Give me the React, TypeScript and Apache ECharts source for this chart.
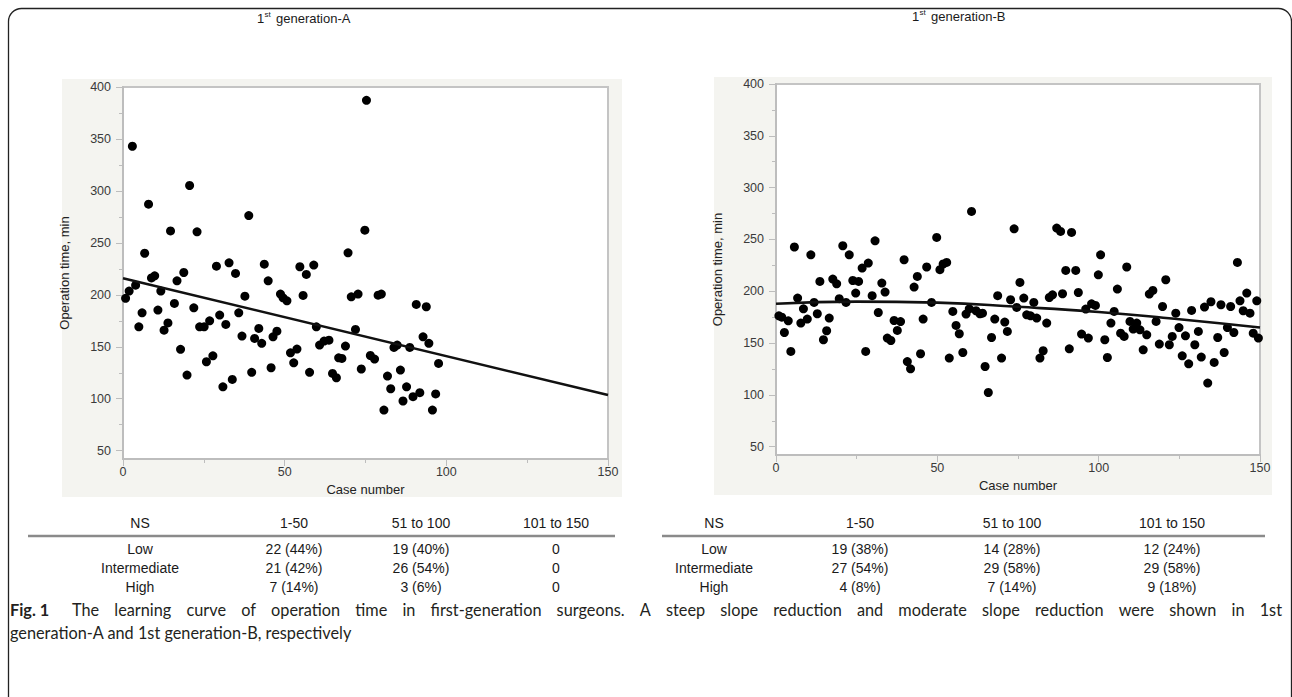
import React, { useEffect, useRef } from "react";
import * as echarts from "echarts";

// ---------------- DATA ----------------
const caseA = [0.8, 1.9, 2.9, 3.9, 4.9, 5.9, 6.7, 7.9, 8.8, 9.8, 10.8, 11.7, 12.7, 13.9, 14.7, 15.9, 16.7, 17.8, 18.8, 19.8, 20.6, 21.9, 22.9, 23.7, 25.1, 25.8, 26.8, 27.8, 28.9, 29.9, 30.9, 31.8, 32.8, 33.8, 34.8, 35.8, 36.8, 37.7, 38.9, 39.8, 40.7, 42.0, 42.9, 43.7, 44.9, 45.8, 46.4, 47.6, 48.7, 49.5, 50.7, 51.8, 52.8, 53.8, 54.7, 55.7, 56.7, 57.7, 59.0, 59.8, 60.8, 62.2, 63.7, 64.8, 66.0, 66.7, 67.7, 68.8, 69.6, 70.6, 71.9, 72.7, 73.7, 74.8, 75.3, 76.5, 77.8, 78.9, 79.9, 80.7, 81.8, 82.8, 83.8, 84.8, 85.8, 86.6, 87.7, 88.7, 89.7, 90.7, 91.8, 92.8, 93.8, 94.6, 95.7, 96.7, 97.6];
const timeA = [196.6, 203.6, 343, 209.3, 169.2, 182.7, 240, 287.2, 216.3, 218.3, 185.3, 203.6, 166, 173, 261.5, 191.7, 213.5, 147.5, 221.5, 122.8, 305.2, 187.5, 260.6, 169.2, 169.2, 135.6, 175, 141.3, 227.6, 180.5, 111.5, 171.5, 230.8, 118.6, 220.6, 182.7, 160.3, 198.7, 276.3, 125.4, 158, 167.7, 153.3, 229.5, 213.5, 129.8, 159.6, 165, 200.7, 197.1, 194.2, 144.2, 134.6, 147.8, 227, 199.4, 219.6, 125.4, 228.6, 169.2, 151.6, 155.5, 156.4, 124.4, 120.2, 139.4, 138.8, 150.7, 240.4, 198.1, 166.7, 200.7, 128.6, 262.2, 387.2, 141.6, 138.2, 199.7, 200.7, 89.1, 121.8, 109.6, 149.4, 151.6, 127.6, 97.8, 111.5, 149.4, 102, 190.8, 105.8, 159.6, 188.5, 153.3, 89.1, 104.6, 134];

const caseB = [0.9, 1.8, 2.6, 3.8, 4.6, 5.7, 6.7, 7.7, 8.5, 9.7, 10.8, 11.8, 12.8, 13.6, 14.7, 15.7, 16.5, 17.6, 18.8, 19.6, 20.7, 21.7, 22.7, 23.8, 24.7, 25.6, 26.7, 27.8, 28.6, 29.8, 30.7, 31.7, 32.8, 33.8, 34.5, 35.6, 36.6, 37.6, 38.6, 39.7, 40.7, 41.7, 42.8, 43.8, 44.8, 45.6, 46.7, 48.2, 49.8, 50.8, 51.8, 52.9, 53.7, 54.8, 55.8, 56.8, 57.9, 58.9, 59.9, 60.6, 62.0, 63.2, 64.0, 64.8, 65.8, 66.8, 67.8, 68.7, 69.9, 70.9, 71.7, 72.7, 73.8, 74.6, 75.6, 76.8, 77.7, 78.9, 79.9, 80.8, 81.8, 82.8, 83.9, 84.7, 85.7, 87.0, 88.2, 88.8, 89.8, 90.9, 91.6, 92.9, 93.7, 94.7, 96.0, 96.8, 97.8, 99.0, 99.9, 100.6, 101.9, 102.7, 103.8, 104.8, 105.8, 106.8, 107.9, 108.7, 109.7, 110.7, 111.8, 112.8, 113.8, 114.9, 115.7, 116.8, 117.8, 118.8, 119.8, 120.8, 121.9, 122.8, 123.9, 124.9, 125.9, 126.9, 127.9, 128.8, 129.8, 130.9, 131.8, 132.8, 133.8, 134.8, 135.8, 136.9, 137.9, 138.9, 139.9, 140.9, 141.9, 143.0, 143.8, 144.8, 145.9, 146.9, 147.9, 149.0, 149.5];
const timeB = [176.3, 175, 160.2, 171.5, 141.9, 242.7, 193.4, 169.3, 183.1, 173.2, 235.2, 189.2, 178.3, 209.5, 153.2, 161.9, 174.1, 211.8, 207.2, 192.8, 243.9, 189.2, 235.2, 210.4, 198.3, 209.5, 222.4, 141.9, 227.2, 195.7, 248.7, 179.5, 207.9, 199.2, 154.8, 152.5, 171.8, 162.2, 170.8, 230.4, 132.2, 125.2, 204, 214.3, 139.7, 173.2, 223.4, 189.2, 251.9, 220.8, 226.3, 227.8, 135.5, 180.5, 167, 159, 140.9, 178, 183.1, 277, 181.2, 178.3, 178.9, 127.4, 102.3, 155.4, 173.2, 195.7, 135.5, 170.3, 161.2, 191.8, 260.3, 184.4, 208.5, 193.4, 177.3, 176.3, 189.2, 174.1, 135.5, 142.6, 169.3, 194, 196.6, 261, 257.7, 197.6, 220.1, 144.5, 256.8, 220.1, 198.8, 158.7, 182.8, 154.8, 187.9, 186.3, 215.9, 235.2, 153.2, 136.1, 169.3, 180.5, 202.1, 159.6, 156.4, 223.4, 170.9, 163.5, 169.3, 162.8, 143.5, 158, 197.3, 200.8, 170.9, 149, 185.3, 211.1, 148.4, 156.4, 178.9, 165, 137.7, 157, 130, 181.5, 148.4, 161.2, 136.5, 184.7, 111.4, 189.9, 131.3, 155.4, 187, 140.9, 165, 185.3, 160.2, 227.8, 190.8, 181.2, 198.3, 178.9, 159.6, 190.8, 154.8];

const fitCaseA = [0, 150];
const fitTimeA = [216, 103.5];
const fitCaseB = [0, 25, 50, 75, 100, 125, 150];
const fitTimeB = [188, 190, 189, 185, 180, 173, 165];

const yTickValues = [50, 100, 150, 200, 250, 300, 350, 400];
const yMinorValues = [75, 125, 175, 225, 275, 325, 375];
const xTickValues = [0, 50, 100, 150];
const xMinorValues = [25, 75, 125];

const tableHeader = ["NS", "1-50", "51 to 100", "101 to 150"];
const rowLabels = ["Low", "Intermediate", "High"];
const tableA = [
  ["22 (44%)", "19 (40%)", "0"],
  ["21 (42%)", "26 (54%)", "0"],
  ["7 (14%)", "3 (6%)", "0"],
];
const tableB = [
  ["19 (38%)", "14 (28%)", "12 (24%)"],
  ["27 (54%)", "29 (58%)", "29 (58%)"],
  ["4 (8%)", "7 (14%)", "9 (18%)"],
];

const captionBold = "Fig. 1";
const captionLine1 = "The learning curve of operation time in first-generation surgeons. A steep slope reduction and moderate slope reduction were shown in 1st";
const captionLine2 = "generation-A and 1st generation-B, respectively";

// ---------------- LAYOUT ----------------
const Y_MIN = 42;
const grids = [
  { left: 123, top: 87, width: 485, height: 372 },
  { left: 776, top: 84, width: 484, height: 371 },
];
const panels = [
  { x: 62, y: 79, w: 560, h: 418 },
  { x: 714, y: 77, w: 558, h: 418 },
];
const AX = "#bdbdbd";
const LBL = "#3a3a3a";
const SANS = "Liberation Sans";
const CAP = "Lato";
const CAP_SIZE = 16.3;

function textEl(text: string, x: number, y: number, size: number, align = "center", extra: any = {}) {
  return {
    type: "text",
    x,
    y,
    style: {
      text,
      fontSize: size,
      fontFamily: extra.fontFamily || SANS,
      fontWeight: extra.fontWeight || "normal",
      fill: extra.fill || "#1a1a1a",
      textAlign: align,
      textVerticalAlign: "middle",
      verticalAlign: "middle",
    },
  };
}

function justified(text: string, x0: number, x1: number, y: number, size: number, family: string) {
  const ctx = document.createElement("canvas").getContext("2d") as CanvasRenderingContext2D;
  ctx.font = `${size}px ${family}`;
  const words = text.split(" ");
  const widths = words.map((w) => ctx.measureText(w).width);
  const total = widths.reduce((a, b) => a + b, 0);
  const gap = (x1 - x0 - total) / (words.length - 1);
  let x = x0;
  return words.map((w, i) => {
    const el = textEl(w, x, y, size, "left", { fontFamily: family, fill: "#231f20" });
    x += widths[i] + gap;
    return el;
  });
}

function buildAxes(gi: number) {
  const x = [
    {
      gridIndex: gi,
      type: "value",
      min: 0,
      max: 150,
      position: "bottom",
      axisLine: { show: true, lineStyle: { color: AX, width: 2 } },
      axisTick: { show: true, customValues: xTickValues, length: 7, lineStyle: { color: AX } },
      axisLabel: { customValues: xTickValues, color: LBL, fontSize: 12.5, fontFamily: SANS, margin: 6 },
      splitLine: { show: false },
      name: "Case number",
      nameLocation: "middle",
      nameGap: 24,
      nameTextStyle: { color: "#222", fontSize: 13, fontFamily: SANS },
    },
    {
      gridIndex: gi,
      type: "value",
      min: 0,
      max: 150,
      position: "bottom",
      axisLine: { show: false },
      axisTick: { show: true, customValues: xMinorValues, length: 4, lineStyle: { color: AX } },
      axisLabel: { show: false },
      splitLine: { show: false },
    },
  ];
  const y = [
    {
      gridIndex: gi,
      type: "value",
      min: Y_MIN,
      max: 400,
      position: "left",
      axisLine: { show: true, lineStyle: { color: AX, width: 2 } },
      axisTick: { show: true, customValues: yTickValues, length: 7, lineStyle: { color: AX } },
      axisLabel: { customValues: yTickValues, color: LBL, fontSize: 12.5, fontFamily: SANS, margin: 12 },
      splitLine: { show: false },
      name: "Operation time, min",
      nameLocation: "middle",
      nameGap: 52,
      nameTextStyle: { color: "#222", fontSize: 13, fontFamily: SANS },
    },
    {
      gridIndex: gi,
      type: "value",
      min: Y_MIN,
      max: 400,
      position: "left",
      axisLine: { show: false },
      axisTick: { show: true, customValues: yMinorValues, length: 4, lineStyle: { color: AX } },
      axisLabel: { show: false },
      splitLine: { show: false },
    },
  ];
  return { x, y };
}

export default function App() {
  const ref = useRef<HTMLDivElement>(null);
  useEffect(() => {
    if (!ref.current) return;
    const chart = echarts.init(ref.current, null, { renderer: "svg" });
    const axA = buildAxes(0);
    const axB = buildAxes(1);

    const graphics: any[] = [];
    graphics.push({
      type: "rect",
      z: 100,
      shape: { x: 8.5, y: 8.5, width: 1283, height: 740, r: 13 },
      style: { fill: "none", stroke: "#222", lineWidth: 1.3 },
    });
    panels.forEach((p) =>
      graphics.push({
        type: "rect",
        z: -10,
        shape: { x: p.x, y: p.y, width: p.w, height: p.h },
        style: { fill: "#f4f4f0" },
      })
    );
    const titles = [
      { x: 257, y: 18, t: "generation-A" },
      { x: 912, y: 16, t: "generation-B" },
    ];
    titles.forEach((t) => {
      graphics.push(textEl("1", t.x, t.y, 13, "left"));
      graphics.push(textEl("st", t.x + 7.5, t.y - 4, 8, "left"));
      graphics.push(textEl(t.t, t.x + 19, t.y, 13, "left"));
    });
    const colsA = [140, 294, 421, 556];
    const colsB = [714, 860, 1012, 1172];
    const headerY = 523;
    const rowYs = [549, 568, 587];
    [
      { cols: colsA, line: [28, 615], data: tableA },
      { cols: colsB, line: [662, 1265], data: tableB },
    ].forEach((t) => {
      tableHeader.forEach((h, i) => graphics.push(textEl(h, t.cols[i], headerY, 14)));
      graphics.push({
        type: "line",
        shape: { x1: t.line[0], y1: 536, x2: t.line[1], y2: 536 },
        style: { stroke: "#8a8a8a", lineWidth: 2.5 },
      });
      rowLabels.forEach((r, ri) => {
        graphics.push(textEl(r, t.cols[0], rowYs[ri], 14));
        t.data[ri].forEach((v, ci) => graphics.push(textEl(v, t.cols[ci + 1], rowYs[ri], 14)));
      });
    });
    graphics.push(textEl(captionBold, 10, 609, CAP_SIZE, "left", { fontFamily: CAP, fontWeight: "bold", fill: "#231f20" }));
    graphics.push(...justified(captionLine1, 72, 1282, 609, CAP_SIZE, CAP));
    graphics.push(textEl(captionLine2, 10, 632, CAP_SIZE, "left", { fontFamily: CAP, fill: "#231f20" }));

    const scatter = (cases: number[], times: number[], xi: number, yi: number) => ({
      type: "scatter",
      xAxisIndex: xi,
      yAxisIndex: yi,
      symbolSize: 9,
      itemStyle: { color: "#000", opacity: 1 },
      data: cases.map((c, i) => [c, times[i]]),
      z: 3,
    });
    const fit = (cases: number[], times: number[], xi: number, yi: number, smooth: boolean) => ({
      type: "line",
      xAxisIndex: xi,
      yAxisIndex: yi,
      showSymbol: false,
      smooth,
      lineStyle: { color: "#111", width: 2.6 },
      data: cases.map((c, i) => [c, times[i]]),
      z: 4,
    });

    chart.setOption({
      animation: false,
      backgroundColor: "#fff",
      grid: grids.map((g) => ({
        ...g,
        show: true,
        backgroundColor: "#fff",
        borderColor: "#c4c4c4",
        borderWidth: 2,
        containLabel: false,
      })),
      xAxis: [...axA.x, ...axB.x],
      yAxis: [...axA.y, ...axB.y],
      series: [
        scatter(caseA, timeA, 0, 0),
        fit(fitCaseA, fitTimeA, 0, 0, false),
        scatter(caseB, timeB, 2, 2),
        fit(fitCaseB, fitTimeB, 2, 2, true),
      ],
      graphic: { elements: graphics },
    });
    return () => chart.dispose();
  }, []);
  return <div ref={ref} style={{ position: "fixed", left: 0, top: 0, width: 1292, height: 697 }} />;
}
